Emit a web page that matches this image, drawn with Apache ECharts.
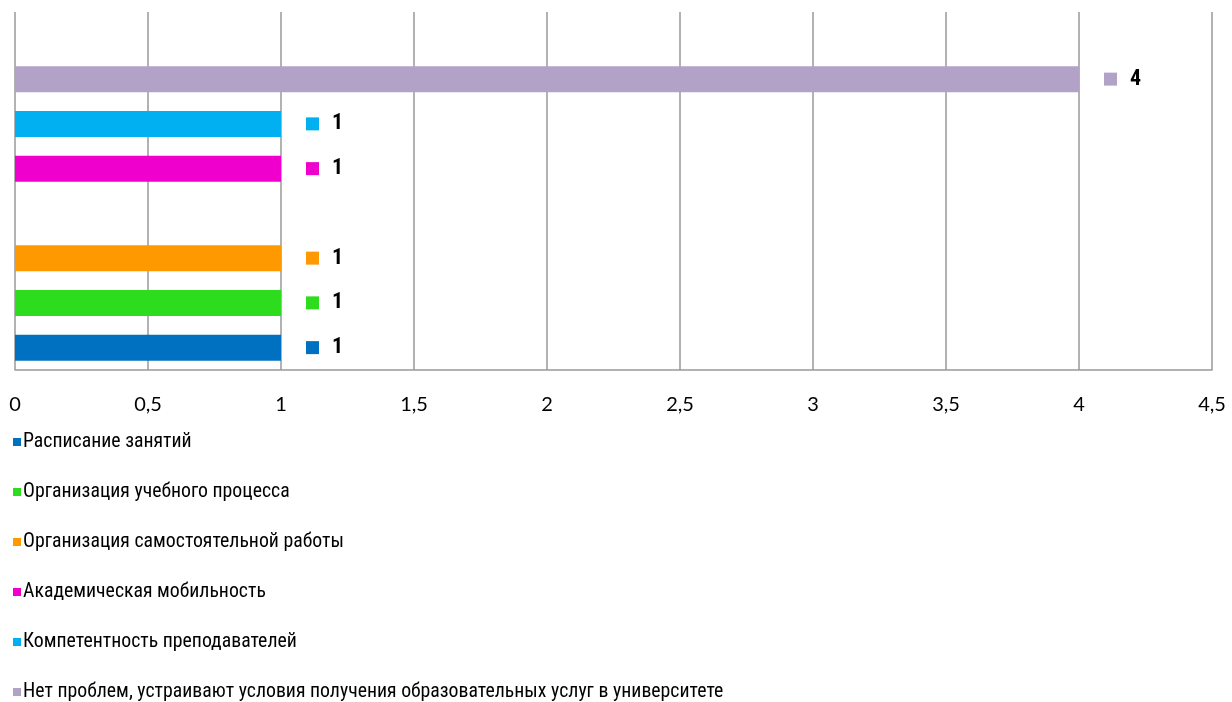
<!DOCTYPE html>
<html><head><meta charset="utf-8">
<script src="https://cdn.jsdelivr.net/npm/echarts@6/dist/echarts.min.js"></script>
<style>html,body{margin:0;padding:0;background:#fff}#c{width:1232px;height:702px}</style>
</head><body><div id="c"></div>
<script>
// Series names (legend order) and their values
const seriesNames = [
  'Расписание занятий',
  'Организация учебного процесса',
  'Организация самостоятельной работы',
  'Академическая мобильность',
  'Компетентность преподавателей',
  'Нет проблем, устраивают условия получения образовательных услуг в университете'
];
const seriesValues = [1, 1, 1, 1, 1, 4];
const seriesColors = ['#0070C0', '#2EDC1E', '#FF9900', '#F000CC', '#00B0F0', '#B3A2C7'];
// Category slots on the vertical axis (bottom to top); blank slots are empty rows
const categories = [
  'Расписание занятий',
  'Организация учебного процесса',
  'Организация самостоятельной работы',
  '_gap1',
  'Академическая мобильность',
  'Компетентность преподавателей',
  'Нет проблем, устраивают условия получения образовательных услуг в университете',
  '_gap2'
];
const xTicks = { min: 0, max: 4.5, interval: 0.5 };

const narrow = "'Liberation Sans Narrow','Arial Narrow','Roboto Condensed',sans-serif";

const series = seriesNames.map((name, i) => ({
  name: name,
  type: 'bar',
  barWidth: 26,
  barGap: '-100%',
  itemStyle: { color: seriesColors[i] },
  data: categories.map(c => c === name ? seriesValues[i] : '-'),
  label: {
    show: true,
    position: 'right',
    distance: 25,
    formatter: p => '{m|}{v|' + p.value + '}',
    rich: {
      m: { backgroundColor: seriesColors[i], width: 13, height: 13 },
      v: { fontFamily: narrow, fontWeight: 'bold', fontSize: 22, color: '#000', padding: [0, 0, 0, 13] }
    }
  }
}));

const chart = echarts.init(document.getElementById('c'), null, { renderer: 'canvas' });
chart.setOption({
  animation: false,
  backgroundColor: '#fff',
  grid: { left: 15, right: 20, top: 12, bottom: 332, containLabel: false },
  xAxis: {
    type: 'value',
    min: xTicks.min, max: xTicks.max, interval: xTicks.interval,
    axisLine: { show: true, lineStyle: { color: '#999', width: 1.5 } },
    axisTick: { show: false },
    splitLine: { show: true, lineStyle: { color: '#999', width: 1.5 } },
    axisLabel: {
      margin: 25,
      fontFamily: "Lato, 'Open Sans', sans-serif",
      fontSize: 20,
      color: '#000',
      formatter: v => String(v).replace('.', ',')
    }
  },
  yAxis: {
    type: 'category',
    data: categories,
    axisLine: { show: false },
    axisTick: { show: false },
    axisLabel: { show: false },
    splitLine: { show: false }
  },
  legend: {
    orient: 'vertical',
    left: 8,
    top: 427,
    height: 275,
    width: 1000,
    itemWidth: 8,
    itemHeight: 8,
    itemGap: 30,
    icon: 'rect',
    data: seriesNames,
    textStyle: { fontFamily: narrow, fontSize: 19.8, lineHeight: 20, color: '#000', padding: [0, 0, 0, -3] }
  },
  series: series
});
</script>
</body></html>
